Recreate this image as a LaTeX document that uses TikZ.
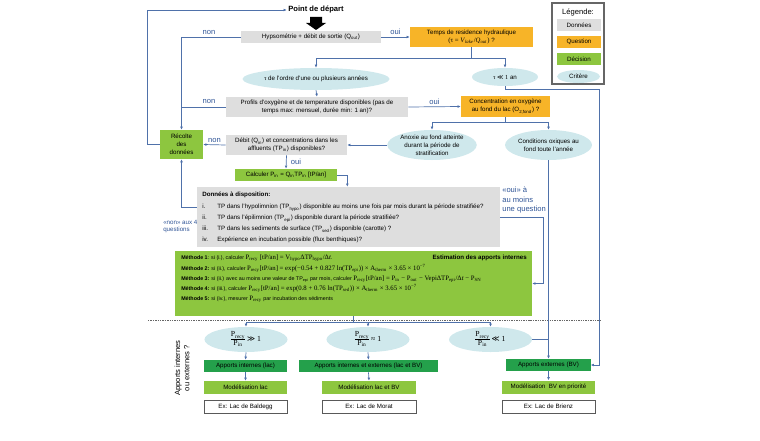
\documentclass[tikz,border=0pt]{standalone}
\usepackage{fontspec}
\setmainfont{Liberation Sans}
\newfontfamily\formule{Liberation Serif}
\newfontfamily\symbole{DejaVu Sans}
\usetikzlibrary{shapes.geometric,arrows.meta,calc}

\definecolor{grisD}{RGB}{222,222,222}
\definecolor{orangeQ}{RGB}{247,180,40}
\definecolor{vertD}{RGB}{141,198,63}
\definecolor{vertF}{RGB}{36,160,75}
\definecolor{cyanC}{RGB}{207,232,236}
\definecolor{bleuTrait}{RGB}{79,113,170}
\definecolor{bleuT}{RGB}{47,84,150}

\newcommand\petit{\fontsize{4.4}{5.6}\selectfont}
\newcommand\minus{\fontsize{3.8}{4.8}\selectfont}
\newcommand\moyen{\fontsize{5.4}{6.6}\selectfont}
\newcommand\bas[1]{\textsubscript{#1}}
\newcommand\formuleM[1]{{\fontsize{4.8}{5}\selectfont\formule #1}}
\newcommand\rapport[1]{{\fontsize{5.5}{6}\selectfont\formule\renewcommand\arraystretch{0.8}%
  \begin{tabular}{@{}c@{}}P\bas{recy}\\\hline P\bas{in}\end{tabular}\ #1}}

\begin{document}
\begin{tikzpicture}[x=0.025cm,y=-0.025cm,
  donnee/.style={rectangle, fill=grisD, inner sep=1pt, align=center, font=\petit},
  question/.style={rectangle, fill=orangeQ, inner sep=1pt, align=center, font=\petit},
  decision/.style={rectangle, fill=vertD, inner sep=1pt, align=center, font=\petit},
  apport/.style={rectangle, fill=vertF, inner sep=1pt, align=center, font=\petit},
  critere/.style={ellipse, fill=cyanC, inner sep=0pt, align=center, font=\petit},
  exemple/.style={rectangle, draw=black!65, line width=0.6pt, fill=white, inner sep=1pt, font=\petit},
  methode/.style={font=\minus, anchor=base west, inner sep=0pt},
  fleche/.style={draw=bleuTrait, line width=0.5pt, -{Latex[length=2.2pt,width=2pt]}},
  lien/.style={draw=bleuTrait, line width=0.5pt},
  choix/.style={text=bleuT, font=\moyen, inner sep=0pt}]
  \useasboundingbox (0,0) rectangle (760,440);

  % legende
  \node (legende) [rectangle, draw=black!60, line width=0.8pt, minimum width=1.3cm, minimum height=2.025cm] at (578,43.5) {};
  \node (legtitre) [font=\moyen, inner sep=0pt] at (578,12) {Légende:};
  \node (legD) [donnee, minimum width=1.1cm, minimum height=0.3cm] at (579,25) {Données};
  \node (legQ) [question, minimum width=1.1cm, minimum height=0.3cm] at (579,42) {Question};
  \node (legDec) [decision, minimum width=1.1cm, minimum height=0.3cm] at (579,59) {Décision};
  \node (legC) [critere, minimum width=1.075cm, minimum height=0.325cm] at (578.5,76.5) {Critère};

  % partie haute
  \node (depart) [font=\moyen\bfseries, inner sep=1pt] at (316,10) {Point de départ};
  \fill (310,17) -- (322,17) -- (322,23) -- (326,23) -- (316,30) -- (306,23) -- (310,23) -- cycle;
  \node (hypso) [donnee, minimum width=3.5cm, minimum height=0.3cm] at (311,37) {Hypsométrie + débit de sortie (Q\bas{out})};
  \node (temps) [question, minimum width=3.075cm, minimum height=0.5cm] at (471.5,37) {Temps de residence hydraulique\\{\fontsize{4.8}{5.6}\selectfont\formule(τ = \textit{V}\bas{\textit{lake}}/\textit{Q}\bas{\textit{out}})} ?};
  \node (tau1) [critere, minimum width=3.075cm, minimum height=0.55cm] at (316,79) {{\formule τ} de l'ordre d'une ou plusieurs années};
  \node (tau2) [critere, minimum width=1.65cm, minimum height=0.45cm] at (505,77) {{\formule τ {\symbole≪} 1} an};
  \node (profils) [donnee, minimum width=4.55cm, minimum height=0.5cm] at (317,107) {Profils d'oxygène et de temperature disponibles (pas de\\temps max: mensuel, durée min: 1 an)?};
  \node (conc) [question, minimum width=2.225cm, minimum height=0.525cm] at (505.5,106.5) {Concentration en oxygène\\au fond du lac (O\bas{2,fond}) ?};
  \node (anoxie) [critere, minimum width=2.125cm, minimum height=0.75cm] at (432,145) {Anoxie au fond atteinte\\durant la période de\\stratification};
  \node (oxique) [critere, minimum width=2.175cm, minimum height=0.75cm] at (548.5,145) {Conditions oxiques au\\fond toute l'année};
  \node (recolte) [decision, minimum width=1.075cm, minimum height=0.725cm] at (181.5,144.5) {Récolte\\des\\données};
  \node (debit) [donnee, minimum width=3.025cm, minimum height=0.5cm] at (286.5,145) {Débit (Q\bas{in}) et concentrations dans les\\affluents (TP\bas{in}) disponibles?};
  \node (calc) [decision, minimum width=2.55cm, minimum height=0.3cm] at (286,175) {Calculer P\bas{in} = Q\bas{in}TP\bas{in} [tP/an]};

  % donnees a disposition
  \node (donnees) [donnee, minimum width=7.575cm, minimum height=1.5cm] at (348.5,217) {};
  \node (dtexte) [font=\petit, align=left, anchor=north west, inner sep=0pt] at (202,192) {\textbf{Données à disposition:}\\[3pt]
    \makebox[0.375cm][l]{i.}TP dans l'hypolimnion (TP\bas{hypo}) disponible au moins une fois par mois durant la période stratifiée?\\[2.2pt]
    \makebox[0.375cm][l]{ii.}TP dans l'épilimnion (TP\bas{epi}) disponible durant la période stratifiée?\\[2.2pt]
    \makebox[0.375cm][l]{iii.}TP dans les sediments de surface (TP\bas{sed}) disponible (carotte) ?\\[2.2pt]
    \makebox[0.375cm][l]{iv.}Expérience en incubation possible (flux benthiques)?};

  % methodes
  \node (methodes) [decision, minimum width=8.925cm, minimum height=1.625cm] at (353.5,283.5) {};
  \node (estim) [font=\petit\bfseries, anchor=base east, inner sep=0pt] at (527,259.5) {Estimation des apports internes};
  \node (m1) [methode] at (181,259.5) {\textbf{Méthode 1}: si (i.), calculer \formuleM{P\bas{recy} [tP/an] = V\bas{hypo}ΔTP\bas{hypo}/Δ\textit{t}}.};
  \node (m2) [methode] at (181,270.5) {\textbf{Méthode 2:} si (ii.), calculer \formuleM{P\bas{recy}[tP/an] = exp(−0.54 + 0.827 ln(TP\bas{epi})) × A\bas{therm} × 3.65 × 10\textsuperscript{−7}}};
  \node (m3) [methode] at (181,280.5) {\textbf{Méthode 3:} si (ii.) avec au moins une valeur de TP\bas{epi} par mois, calculer \formuleM{P\bas{recy}[tP/an] = P\bas{in} − P\bas{out} − VepiΔTP\bas{epi}/Δ\textit{t} − P\bas{SN}}};
  \node (m4) [methode] at (181,290.5) {\textbf{Méthode 4:} si (iii.), calculer \formuleM{P\bas{recy}[tP/an] = exp(0.8 + 0.76 ln(TP\bas{sed})) × A\bas{therm} × 3.65 × 10\textsuperscript{−7}}};
  \node (m5) [methode] at (181,300.5) {\textbf{Méthode 5:} si (iv.), mesurer \formuleM{P\bas{recy}} par incubation des sédiments};

  % partie basse
  \draw[black!60, line width=0.5pt, dash pattern=on 1pt off 0.7pt] (148,320) -- (602,320);
  \node (apq) [rotate=90, align=center, font=\moyen, inner sep=0pt] at (182,368) {Apports internes\\ou externes ?};
  \node (r1) [critere, minimum width=2.075cm, minimum height=0.625cm] at (246,339.5) {\rapport{{\symbole≫} 1}};
  \node (r2) [critere, minimum width=2.075cm, minimum height=0.625cm] at (368,339.5) {\rapport{≈ 1}};
  \node (r3) [critere, minimum width=2.075cm, minimum height=0.625cm] at (490.5,339.5) {\rapport{{\symbole≪} 1}};
  \node (ap1) [apport, minimum width=2.075cm, minimum height=0.3cm] at (245.5,366) {Apports internes (lac)};
  \node (ap2) [apport, minimum width=3.475cm, minimum height=0.3cm] at (368.5,366) {Apports internes et externes (lac et BV)};
  \node (ap3) [apport, minimum width=2.1cm, minimum height=0.3cm] at (548.5,365) {Apports externes (BV)};
  \node (mod1) [decision, minimum width=2.075cm, minimum height=0.325cm] at (245.5,387.5) {Modélisation lac};
  \node (mod2) [decision, minimum width=2.35cm, minimum height=0.325cm] at (369,387.5) {Modélisation lac et BV};
  \node (mod3) [decision, minimum width=2.325cm, minimum height=0.325cm] at (548.5,387) {Modélisation\ \ BV en priorité};
  \node (ex1) [exemple, minimum width=2.075cm, minimum height=0.325cm] at (245.5,406.5) {Ex: Lac de Baldegg};
  \node (ex2) [exemple, minimum width=2.35cm, minimum height=0.325cm] at (369,406.5) {Ex: Lac de Morat};
  \node (ex3) [exemple, minimum width=2.325cm, minimum height=0.325cm] at (548.5,406.5) {Ex: Lac de Brienz};

  % liens
  \draw[fleche] (recolte.west) -- ++(-12,0) |- (depart.west);
  \draw[fleche] (hypso.east) -- (temps.west) node[choix, midway, above=1.5pt] (oui1) {oui};
  \draw[fleche] (hypso.west) -| (recolte.north);
  \node (non1) [choix] at (209,32) {non};
  \draw[lien] (temps.south) -- ++(0,11) coordinate (tb);
  \draw[fleche] (tb) -| (tau1.north);
  \draw[fleche] (tb) -| (tau2.north);
  \draw[fleche] (tau1.south) -- (profils.north);
  \draw[lien] (profils.west) -- (profils.west -| recolte.north);
  \node (non2) [choix] at (209,101) {non};
  \draw[fleche] (profils.east) -- (conc.west) node[choix, midway, above=1.5pt] (oui2) {oui};
  \draw[lien] (conc.south) -- ++(0,5) coordinate (cb);
  \draw[fleche] (cb) -| (anoxie.north);
  \draw[fleche] (cb) -| (oxique.north);
  \draw[fleche] (anoxie.west) -- (debit.east);
  \draw[fleche] (debit.west) -- (recolte.east) node[choix, midway, above=1.5pt] (non3) {non};
  \draw[fleche] (debit.south) -- (calc.north) node[choix, midway, right=3pt] (oui3) {oui};
  \draw[fleche] (calc.east) -| (donnees.north -| debit.east);
  \draw[fleche] ($(donnees.west)+(0,-10)$) -| (recolte.south);
  \node (non4) [choix, font=\fontsize{4.4}{5}\selectfont, align=left, anchor=north west] at (163,220) {«non» aux 4\\questions};
  \draw[fleche] (donnees.east) -- ++(43,0) |- (methodes.east);
  \node (oui4) [choix, align=left, anchor=north west] at (502,187) {«oui» à\\au moins\\une question};
  \draw[fleche] (tau2.south) |- ++(94,3) |- (ap3.east);
  \draw[fleche] (oxique.south) -- (ap3.north);
  \draw[lien] (r3.east) -- (r3.east -| ap3.north);
  \draw[lien] (methodes.south) -- ++(0,6) coordinate (mb);
  \draw[fleche] (mb) -| (r1.north);
  \draw[fleche] (mb) -| (r2.north);
  \draw[fleche] (mb) -| (r3.north);
  \draw[fleche] (r1.south) -- (ap1.north);
  \draw[fleche] (r2.south) -- (ap2.north);
  \draw[fleche] (ap1.south) -- (mod1.north);
  \draw[fleche] (ap2.south) -- (mod2.north);
  \draw[fleche] (ap3.south) -- (mod3.north);
\end{tikzpicture}
\end{document}
